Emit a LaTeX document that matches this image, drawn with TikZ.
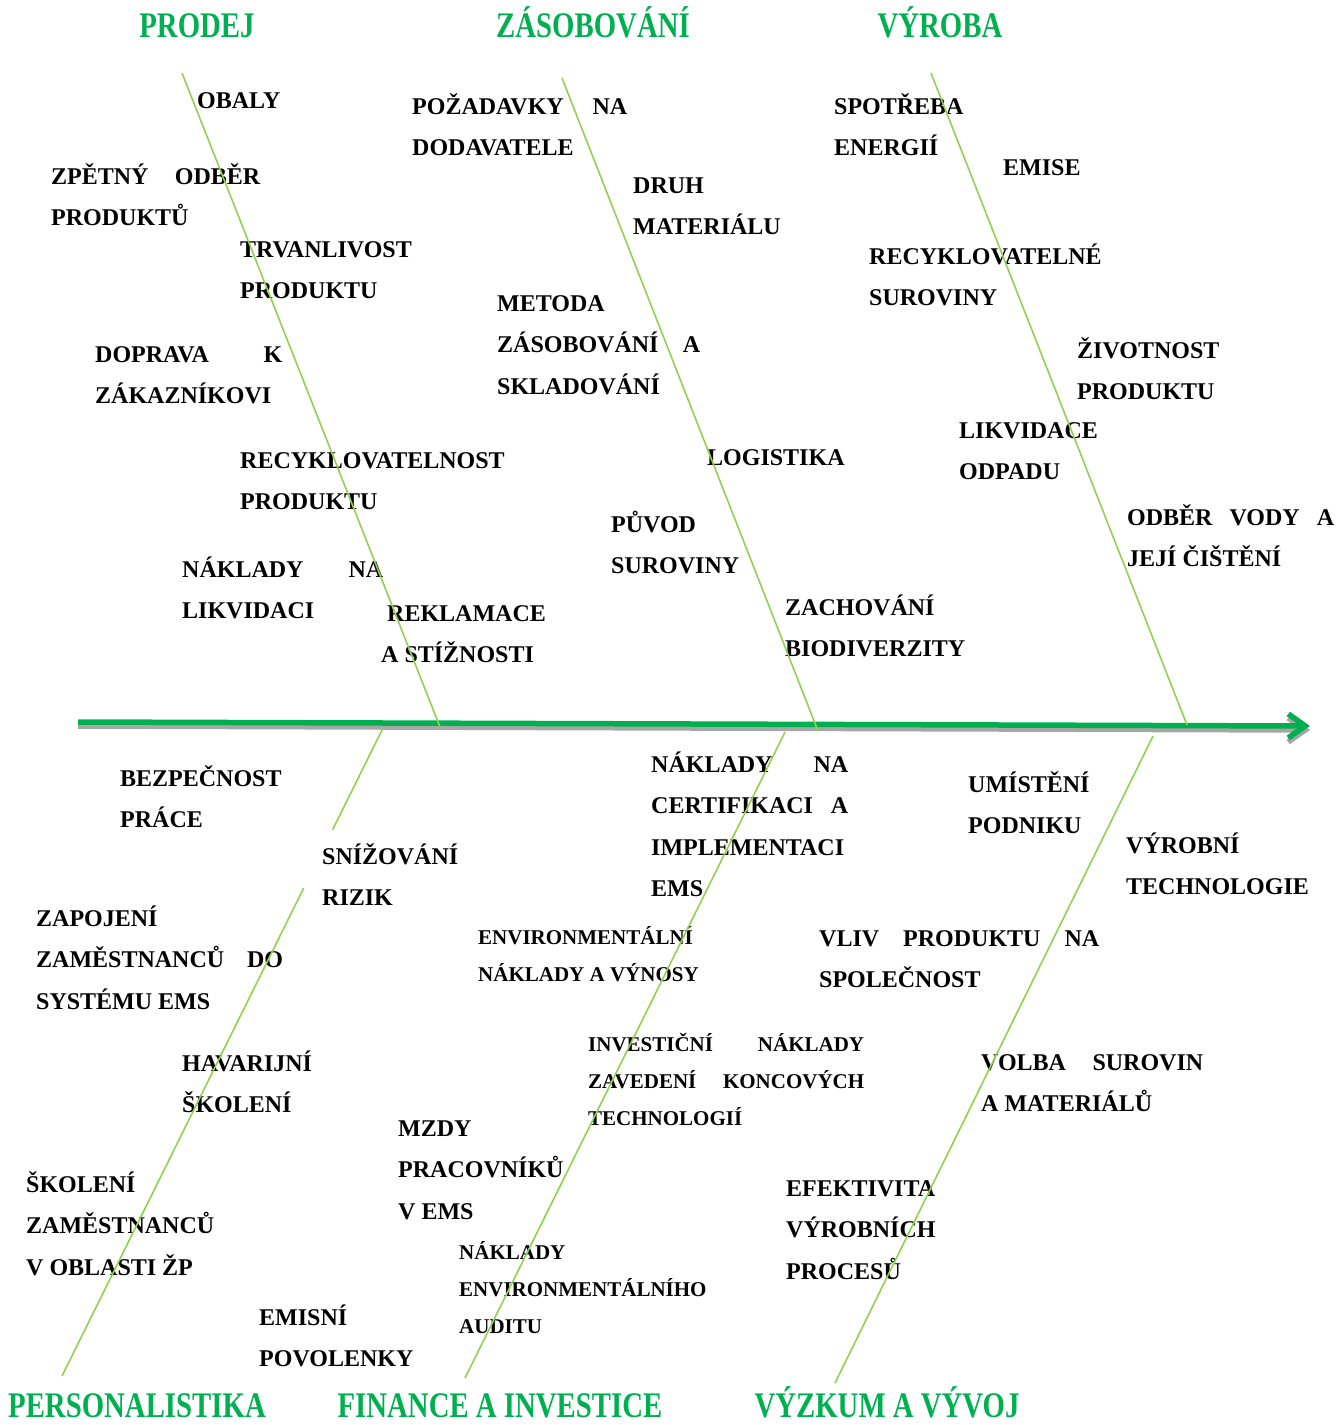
\documentclass[tikz,border=0pt]{standalone}
\usepackage{fontspec}
\setmainfont{Liberation Serif}
\usetikzlibrary{arrows.meta,calc}
\definecolor{headgreen}{HTML}{00B050}
\definecolor{bonegreen}{HTML}{92D050}
\definecolor{spinegray}{HTML}{A6A6A6}

\begin{document}
\begin{tikzpicture}
  [x=1pt,y=-1pt,
   bone/.style={draw=bonegreen, line width=1.6pt},
   spine/.style={line width=5.5pt, -{Straight Barb[length=17pt,width=24pt]}},
   cause/.style={anchor=base west, inner sep=0pt, font=\bfseries\fontsize{24}{41.5}\selectfont},
   minor/.style={cause, font=\bfseries\fontsize{21}{37}\selectfont},
   head/.style={anchor=base, inner sep=0pt, text=headgreen, font=\bfseries\fontsize{36}{36}\selectfont}]

  \newcommand{\rw}[1]{\hbox{#1}}
  \newcommand{\jl}[2]{\hbox to #1pt{#2}}
  \newcommand{\hd}[1]{\scalebox{0.8}[1]{#1}}

  \useasboundingbox (0,0) rectangle (1342,1425);

  % spine
  \coordinate (tail) at (78,722);
  \coordinate (tip) at (1310,726);
  \draw[spine, spinegray] ($(tail)+(0,4)$) -- ($(tip)+(0,4)$);
  \draw[spine, headgreen] (tail) -- (tip);

  % headers
  \node[head] (prodej) at (197,37) {\hd{PRODEJ}};
  \node[head] (zasob) at (593,37) {\hd{ZÁSOBOVÁNÍ}};
  \node[head] (vyroba) at (940,37) {\hd{VÝROBA}};
  \node[head] (personal) at (137,1417) {\hd{PERSONALISTIKA}};
  \node[head] (finance) at (500,1417) {\hd{FINANCE A INVESTICE}};
  \node[head] (vyzkum) at (887,1417) {\hd{VÝZKUM A VÝVOJ}};

  \begin{scope}
    % prodej
    \node[cause] (p1) at (197,108) {OBALY};
    \node[cause] (p2) at (51,184) {\vtop{\jl{209}{ZPĚTNÝ\hfill ODBĚR}\rw{PRODUKTŮ}}};
    \node[cause] (p3) at (240,257) {\vtop{\rw{TRVANLIVOST}\rw{PRODUKTU}}};
    \node[cause] (p4) at (95,362) {\vtop{\jl{187}{DOPRAVA\hfill K}\rw{ZÁKAZNÍKOVI}}};
    \node[cause] (p5) at (240,468) {\vtop{\rw{RECYKLOVATELNOST}\rw{PRODUKTU}}};
    \node[cause] (p6) at (182,577) {\vtop{\jl{201}{NÁKLADY\hfill NA}\rw{LIKVIDACI}}};
    \node[cause] (p7) at (381,621) {\vtop{\rw{\kern6pt REKLAMACE}\rw{A STÍŽNOSTI}}};

    \coordinate (pa) at (182,73);
    \coordinate (pb) at (440,727);
    \draw[bone] (pa) -- (pb);
  \end{scope}

  \begin{scope}
    % zasobovani
    \node[cause] (z1) at (412,114) {\vtop{\jl{215}{POŽADAVKY\hfill NA}\rw{DODAVATELE}}};
    \node[cause] (z2) at (633,193) {\vtop{\rw{DRUH}\rw{MATERIÁLU}}};
    \node[cause] (z3) at (497,311) {\vtop{\rw{METODA}\jl{203}{ZÁSOBOVÁNÍ\hfill A}\rw{SKLADOVÁNÍ}}};
    \node[cause] (z4) at (707,465) {LOGISTIKA};
    \node[cause] (z5) at (611,532) {\vtop{\rw{PŮVOD}\rw{SUROVINY}}};
    \node[cause] (z6) at (785,615) {\vtop{\rw{ZACHOVÁNÍ}\rw{BIODIVERZITY}}};

    \coordinate (za) at (562,78);
    \coordinate (zb) at (818,731);
    \draw[bone] (za) -- (zb);
  \end{scope}

  \begin{scope}
    % vyroba
    \node[cause] (v1) at (834,114) {\vtop{\rw{SPOTŘEBA}\rw{ENERGIÍ}}};
    \node[cause] (v2) at (1003,175) {EMISE};
    \node[cause] (v3) at (869,264) {\vtop{\rw{RECYKLOVATELNÉ}\rw{SUROVINY}}};
    \node[cause] (v4) at (1077,358) {\vtop{\rw{ŽIVOTNOST}\rw{PRODUKTU}}};
    \node[cause] (v5) at (959,438) {\vtop{\rw{LIKVIDACE}\rw{ODPADU}}};
    \node[cause] (v6) at (1127,525) {\vtop{\jl{207}{ODBĚR\hfill VODY\hfill A}\rw{JEJÍ ČIŠTĚNÍ}}};

    \coordinate (va) at (931,73);
    \coordinate (vb) at (1187,725);
    \draw[bone] (va) -- (vb);
  \end{scope}

  \begin{scope}
    % personalistika
    \node[cause] (h1) at (120,786) {\vtop{\rw{BEZPEČNOST}\rw{PRÁCE}}};
    \node[cause] (h2) at (322,864) {\vtop{\rw{SNÍŽOVÁNÍ}\rw{RIZIK}}};
    \node[cause] (h3) at (36,926) {\vtop{\rw{ZAPOJENÍ}\jl{247}{ZAMĚSTNANCŮ\hfill DO}\rw{SYSTÉMU EMS}}};
    \node[cause] (h4) at (182,1071) {\vtop{\rw{HAVARIJNÍ}\rw{ŠKOLENÍ}}};
    \node[cause] (h5) at (26,1192) {\vtop{\rw{ŠKOLENÍ}\rw{ZAMĚSTNANCŮ}\rw{V OBLASTI ŽP}}};
    \node[cause] (h6) at (259,1325) {\vtop{\rw{EMISNÍ}\rw{POVOLENKY}}};

    \coordinate (ha) at (383,728);
    \coordinate (hb) at (62,1376);
    \draw[bone] (ha) -- ($(ha)!0.157!(hb)$);
    \draw[bone] ($(ha)!0.247!(hb)$) -- (hb);
  \end{scope}

  \begin{scope}
    % finance a investice
    \node[cause] (f1) at (651,772) {\vtop{\jl{197}{NÁKLADY\hfill NA}\jl{197}{CERTIFIKACI\hfill A}\rw{IMPLEMENTACI}\rw{EMS}}};
    \node[minor] (f2) at (478,944) {\vtop{\rw{ENVIRONMENTÁLNÍ}\rw{NÁKLADY A VÝNOSY}}};
    \node[minor] (f3) at (588,1051) {\vtop{\jl{276}{INVESTIČNÍ\hfill NÁKLADY}\jl{276}{ZAVEDENÍ\hfill KONCOVÝCH}\rw{TECHNOLOGIÍ}}};
    \node[cause] (f4) at (398,1136) {\vtop{\rw{MZDY}\rw{PRACOVNÍKŮ}\rw{V EMS}}};
    \node[minor] (f5) at (459,1259) {\vtop{\rw{NÁKLADY}\rw{ENVIRONMENTÁLNÍHO}\rw{AUDITU}}};

    \coordinate (fa) at (785,732);
    \coordinate (fb) at (465,1378);
    \draw[bone] (fa) -- (fb);
  \end{scope}

  \begin{scope}
    % vyzkum a vyvoj
    \node[cause] (r1) at (968,792) {\vtop{\rw{UMÍSTĚNÍ}\rw{PODNIKU}}};
    \node[cause] (r2) at (1126,853) {\vtop{\rw{VÝROBNÍ}\rw{TECHNOLOGIE}}};
    \node[cause] (r3) at (819,946) {\vtop{\jl{280}{VLIV\hfill PRODUKTU\hfill NA}\rw{SPOLEČNOST}}};
    \node[cause] (r4) at (981,1070) {\vtop{\jl{222}{VOLBA\hfill SUROVIN}\rw{A MATERIÁLŮ}}};
    \node[cause] (r5) at (786,1196) {\vtop{\rw{EFEKTIVITA}\rw{VÝROBNÍCH}\rw{PROCESŮ}}};

    \coordinate (ra) at (1153,736);
    \coordinate (rb) at (835,1383);
    \draw[bone] (ra) -- (rb);
  \end{scope}

\end{tikzpicture}
\end{document}
